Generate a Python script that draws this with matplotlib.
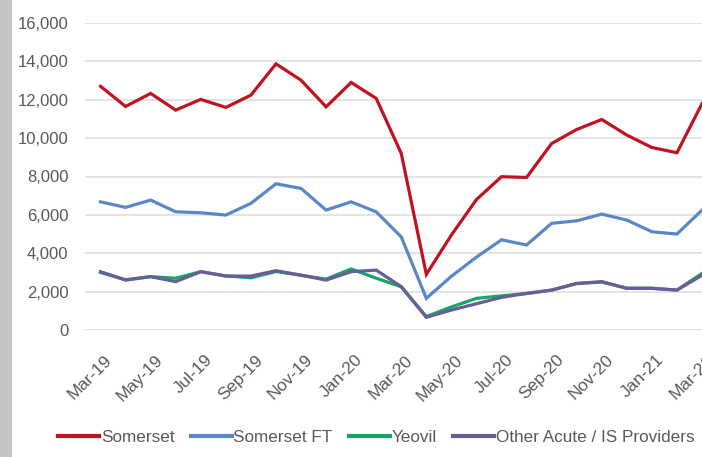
import matplotlib
matplotlib.use("Agg")
import matplotlib.pyplot as plt
import matplotlib.transforms as mtransforms
from matplotlib.patches import Rectangle

months = ["Mar-19", "Apr-19", "May-19", "Jun-19", "Jul-19", "Aug-19", "Sep-19",
          "Oct-19", "Nov-19", "Dec-19", "Jan-20", "Feb-20", "Mar-20", "Apr-20",
          "May-20", "Jun-20", "Jul-20", "Aug-20", "Sep-20", "Oct-20", "Nov-20",
          "Dec-20", "Jan-21", "Feb-21", "Mar-21"]

somerset = [12700, 11650, 12330, 11460, 12020, 11600, 12240, 13870, 13020, 11630,
            12900, 12070, 9200, 2900, 4950, 6800, 7990, 7950, 9720, 10450, 10970,
            10160, 9510, 9240, 11800]
somerset_ft = [6680, 6390, 6770, 6160, 6110, 5990, 6600, 7620, 7380, 6250,
               6680, 6160, 4850, 1650, 2800, 3800, 4700, 4430, 5560, 5690, 6040,
               5730, 5120, 5000, 6250]
yeovil = [3000, 2620, 2780, 2700, 3040, 2820, 2720, 3050, 2850, 2650,
          3180, 2700, 2250, 700, 1200, 1650, 1780, 1900, 2080, 2420, 2500,
          2180, 2180, 2080, 2950]
other_acute = [3040, 2600, 2780, 2520, 3040, 2810, 2810, 3090, 2860, 2600,
               3040, 3120, 2260, 660, 1040, 1370, 1700, 1910, 2080, 2430, 2520,
               2170, 2170, 2080, 2850]

series_names = ["Somerset", "Somerset FT", "Yeovil", "Other Acute / IS Providers"]
yticks = [0, 2000, 4000, 6000, 8000, 10000, 12000, 14000, 16000]

W, H = 702, 457
fig = plt.figure(figsize=(W / 100, H / 100), dpi=100)
fig.patch.set_facecolor("white")
fig.patches.append(Rectangle((0, 0), 12 / W, 1, transform=fig.transFigure,
                             facecolor="#c4c4c4", edgecolor="none", zorder=0))

ax = fig.add_axes([85 / W, (H - 330) / H, (W - 85) / W, (330 - 23) / H])
x = list(range(len(months)))
colors = ["#C0131F", "#5A87C6", "#13A866", "#6A5C98"]
data = [somerset, somerset_ft, yeovil, other_acute]
for vals, c, name in zip(data, colors, series_names):
    ax.plot(x, vals, color=c, lw=2.3, label=name, solid_joinstyle="miter", zorder=3)

ax.set_ylim(0, 16000)
ax.set_xlim(-0.62, 23.62)
ax.set_yticks(yticks)
ax.set_yticklabels([f"{v:,}" for v in yticks])
ax.yaxis.grid(True, color="#dcdcdc", lw=1.1)
ax.set_axisbelow(True)
for s in ax.spines.values():
    s.set_visible(False)
ax.tick_params(axis="both", length=0, colors="#595959", labelsize=12,
               labelfontfamily="Liberation Sans")
ax.tick_params(axis="y", pad=12)
ax.tick_params(axis="x", pad=16, labelsize=12.5)

xt = x[::2]
ax.set_xticks(xt)
ax.set_xticklabels([months[i] for i in xt], rotation=45, ha="right", va="top",
                   rotation_mode="anchor")
offset = mtransforms.ScaledTranslation(4 / 100, 0, fig.dpi_scale_trans)
for lab in ax.get_xticklabels():
    lab.set_transform(lab.get_transform() + offset)

leg = fig.legend(loc="center left", bbox_to_anchor=(58 / W, 20 / H), ncol=4,
                 frameon=False, borderpad=0, borderaxespad=0, handlelength=2.4,
                 handletextpad=0.1, columnspacing=0.95,
                 prop={"family": "Liberation Sans", "size": 12.3})
for t in leg.get_texts():
    t.set_color("#595959")
for l in leg.get_lines():
    l.set_linewidth(3)

fig.savefig("out.png", dpi=100)
